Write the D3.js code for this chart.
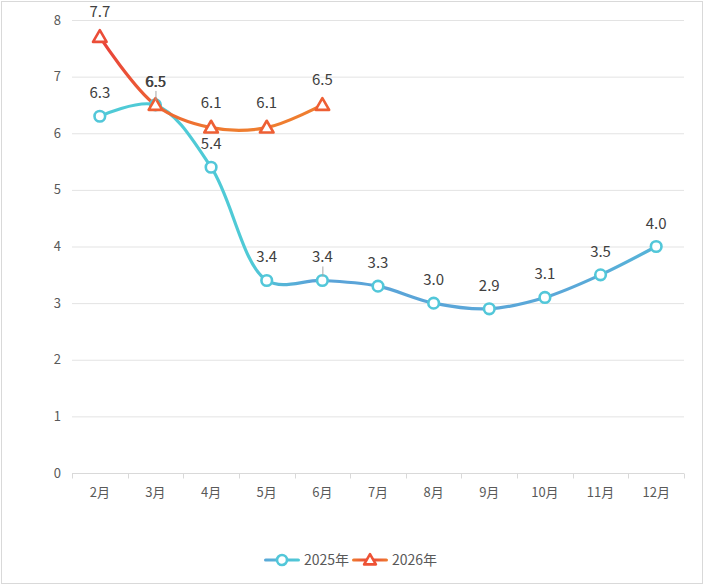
<!DOCTYPE html>
<html>
<head>
<meta charset="utf-8">
<script src="https://cdn.jsdelivr.net/npm/d3@7"></script>
<style>
    body { margin: 0; background: #fff; }
    text { font-family: "Noto Sans CJK SC", "Noto Sans", sans-serif; }
    .tick-label { font-size: 13px; fill: #595959; }
    .data-label { font-size: 15px; fill: #404040; text-anchor: middle; }
    .legend-label { font-size: 14px; fill: #595959; }
</style>
</head>
<body>
<svg id="chart" width="704" height="585"></svg>
<script>
const months = ['2月', '3月', '4月', '5月', '6月', '7月', '8月', '9月', '10月', '11月', '12月'];
const values2025 = [6.3, 6.5, 5.4, 3.4, 3.4, 3.3, 3.0, 2.9, 3.1, 3.5, 4.0];
const values2026 = [7.7, 6.5, 6.1, 6.1, 6.5];
const yTicks = [0, 1, 2, 3, 4, 5, 6, 7, 8];
const seriesNames = ['2025年', '2026年'];

const margin = { top: 20, right: 20, bottom: 112, left: 72 };
const width = 704, height = 585;

const svg = d3.select('#chart');

// outer border
svg.append('rect')
    .attr('x', 1.5).attr('y', 1.5)
    .attr('width', width - 3).attr('height', height - 3)
    .attr('fill', '#fff').attr('stroke', '#d9d9d9');

const x = d3.scaleBand()
    .domain(months)
    .range([margin.left, width - margin.right]);

const y = d3.scaleLinear()
    .domain([0, 8])
    .range([height - margin.bottom, margin.top]);

const cx = m => x(m) + x.bandwidth() / 2;

// gradients
const defs = svg.append('defs');
const g2025 = defs.append('linearGradient')
    .attr('id', 'grad2025').attr('gradientUnits', 'userSpaceOnUse')
    .attr('x1', cx('2月')).attr('x2', cx('12月')).attr('y1', 0).attr('y2', 0);
g2025.append('stop').attr('offset', '0%').attr('stop-color', '#4fcad6');
g2025.append('stop').attr('offset', '27%').attr('stop-color', '#4fcad6');
g2025.append('stop').attr('offset', '38%').attr('stop-color', '#5aa3d8');
g2025.append('stop').attr('offset', '85%').attr('stop-color', '#5aa8d8');
g2025.append('stop').attr('offset', '100%').attr('stop-color', '#55b4d8');

const g2026 = defs.append('linearGradient')
    .attr('id', 'grad2026').attr('gradientUnits', 'userSpaceOnUse')
    .attr('x1', cx('2月')).attr('x2', cx('6月')).attr('y1', 0).attr('y2', 0);
g2026.append('stop').attr('offset', '0%').attr('stop-color', '#e8403a');
g2026.append('stop').attr('offset', '30%').attr('stop-color', '#ee6a32');
g2026.append('stop').attr('offset', '60%').attr('stop-color', '#ef7d2f');
g2026.append('stop').attr('offset', '100%').attr('stop-color', '#ef7d2f');

const lg2025 = defs.append('linearGradient').attr('id', 'legend2025');
lg2025.append('stop').attr('offset', '0%').attr('stop-color', '#5aa8d8');
lg2025.append('stop').attr('offset', '100%').attr('stop-color', '#4fcad6');
const lg2026 = defs.append('linearGradient').attr('id', 'legend2026');
lg2026.append('stop').attr('offset', '0%').attr('stop-color', '#ef7d2f');
lg2026.append('stop').attr('offset', '50%').attr('stop-color', '#e8403a');
lg2026.append('stop').attr('offset', '100%').attr('stop-color', '#ef7d2f');

// gridlines
svg.append('g')
    .selectAll('line')
    .data(yTicks.filter(d => d > 0))
    .join('line')
        .attr('x1', margin.left).attr('x2', width - margin.right)
        .attr('y1', d => y(d) + 0.5).attr('y2', d => y(d) + 0.5)
        .attr('stroke', '#e3e3e3');

// y axis labels
svg.append('g')
    .selectAll('text')
    .data(yTicks)
    .join('text')
        .attr('class', 'tick-label')
        .attr('x', 61)
        .attr('y', d => y(d))
        .attr('dy', '0.35em')
        .attr('text-anchor', 'end')
        .text(d => d);

// x axis
const xAxis = svg.append('g')
    .attr('transform', 'translate(0,' + (y(0) + 0.5) + ')');
xAxis.append('line')
    .attr('x1', margin.left).attr('x2', width - margin.right)
    .attr('stroke', '#d9d9d9');
const boundaries = months.map(m => x(m)).concat([x(months[months.length - 1]) + x.bandwidth()]);
xAxis.selectAll('line.tick')
    .data(boundaries)
    .join('line')
        .attr('class', 'tick')
        .attr('x1', d => Math.round(d) + 0.5).attr('x2', d => Math.round(d) + 0.5)
        .attr('y1', 0).attr('y2', 5)
        .attr('stroke', '#d9d9d9');
xAxis.selectAll('text')
    .data(months)
    .join('text')
        .attr('class', 'tick-label')
        .attr('x', d => cx(d))
        .attr('y', 19)
        .attr('dy', '0.35em')
        .attr('text-anchor', 'middle')
        .text(d => d);

const line = d3.line()
    .x((d, i) => cx(months[i]))
    .y(d => y(d))
    .curve(d3.curveCatmullRom.alpha(0.5));

const triangle = d3.symbol().type(d3.symbolTriangle).size(80);

// 2025 series
svg.append('path')
    .datum(values2025)
    .attr('d', line)
    .attr('fill', 'none')
    .attr('stroke', 'url(#grad2025)')
    .attr('stroke-width', 3.2)
    .attr('stroke-linecap', 'round');

// 2026 series
svg.append('path')
    .datum(values2026)
    .attr('d', line)
    .attr('fill', 'none')
    .attr('stroke', 'url(#grad2026)')
    .attr('stroke-width', 3.2)
    .attr('stroke-linecap', 'round');

svg.append('g')
    .selectAll('circle')
    .data(values2025)
    .join('circle')
        .attr('cx', (d, i) => cx(months[i]))
        .attr('cy', d => y(d))
        .attr('r', 5.3)
        .attr('fill', '#fff')
        .attr('stroke', '#52c7d9')
        .attr('stroke-width', 2.6);

svg.append('g')
    .selectAll('path')
    .data(values2026)
    .join('path')
        .attr('d', triangle)
        .attr('transform', (d, i) => 'translate(' + cx(months[i]) + ',' + (y(d) + 1) + ')')
        .attr('fill', '#fff')
        .attr('stroke', (d, i) => i === 0 ? '#eb4d38' : '#ee5f34')
        .attr('stroke-width', 2.6)
        .attr('stroke-linejoin', 'round');

// leader lines where labels sit close to the point
[[1, values2025[1]], [4, values2025[4]]].forEach(([i, v]) => {
    svg.append('line')
        .attr('x1', cx(months[i]) + 0.5).attr('x2', cx(months[i]) + 0.5)
        .attr('y1', y(v) - 14).attr('y2', y(v) - 4)
        .attr('stroke', '#a6a6a6').attr('stroke-width', 1);
});

// data labels
svg.append('g')
    .selectAll('text')
    .data(values2025)
    .join('text')
        .attr('class', 'data-label')
        .attr('x', (d, i) => cx(months[i]))
        .attr('y', d => y(d) - 18)
        .text(d => d.toFixed(1));

svg.append('g')
    .selectAll('text')
    .data(values2026)
    .join('text')
        .attr('class', 'data-label')
        .attr('x', (d, i) => cx(months[i]) + (i === 1 ? 0.6 : 0))
        .attr('y', (d, i) => y(d) - (i === 1 ? 18 : 20))
        .text(d => d.toFixed(1));

// legend
const legend = svg.append('g').attr('transform', 'translate(0,560)');
const legendItems = [
    { name: seriesNames[0], x: 264, stroke: 'url(#legend2025)', marker: 'circle' },
    { name: seriesNames[1], x: 352, stroke: 'url(#legend2026)', marker: 'triangle' }
];
legendItems.forEach(item => {
    const gItem = legend.append('g').attr('transform', 'translate(' + item.x + ',0)');
    gItem.append('rect')
        .attr('x', 0).attr('y', -1.6)
        .attr('width', 36).attr('height', 3.2)
        .attr('rx', 1.6)
        .attr('fill', item.stroke);
    if (item.marker === 'circle') {
        gItem.append('circle')
            .attr('cx', 18).attr('r', 5).attr('fill', '#fff')
            .attr('stroke', '#52c7d9').attr('stroke-width', 2.6);
    } else {
        gItem.append('path')
            .attr('d', d3.symbol().type(d3.symbolTriangle).size(60))
            .attr('transform', 'translate(18,1)')
            .attr('fill', '#fff').attr('stroke', '#ee5235')
            .attr('stroke-width', 2.6).attr('stroke-linejoin', 'round');
    }
    gItem.append('text')
        .attr('class', 'legend-label')
        .attr('x', 40)
        .attr('dy', '0.35em')
        .text(item.name);
});
</script>
</body>
</html>
